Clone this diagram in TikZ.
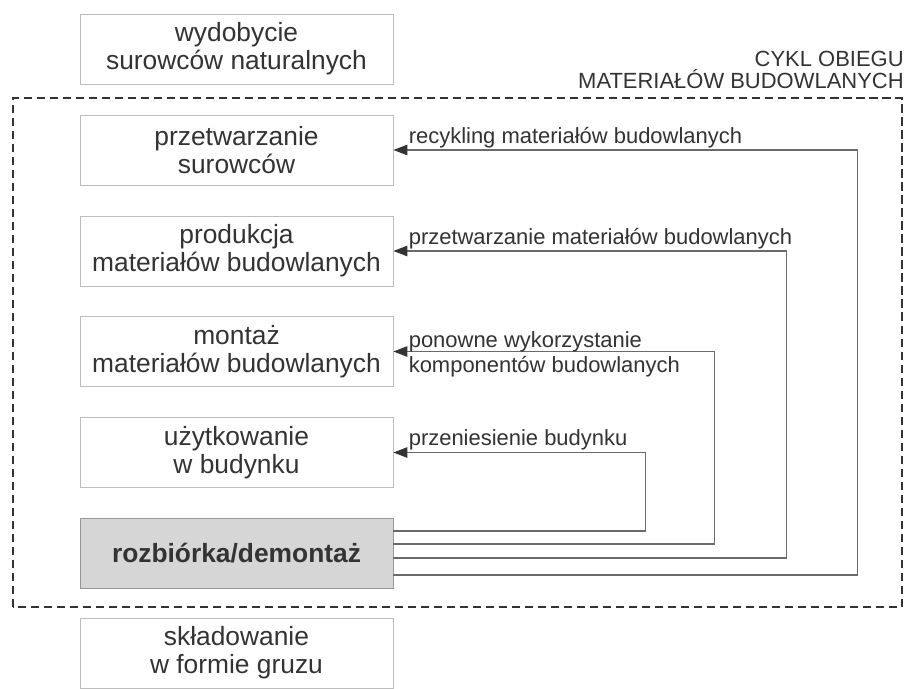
\documentclass[tikz,border=0pt]{standalone}
\usepackage{fontspec}
\setmainfont{Liberation Sans}
\usetikzlibrary{arrows.meta}

\definecolor{tekst}{HTML}{333333}
\definecolor{ramka}{HTML}{BDBDBD}
\definecolor{linia}{HTML}{6A6A6A}
\definecolor{szary}{HTML}{D6D6D6}

\begin{document}
\begin{tikzpicture}[
  etap/.style={rectangle, draw=ramka, line width=0.5pt, fill=white, minimum width=6.26cm, minimum height=1.4cm, inner sep=0pt, align=center, text=tekst, font=\fontsize{15}{16}\selectfont},
  etapszary/.style={etap, fill=szary, draw=ramka!80!black, font=\fontsize{15}{16}\selectfont\bfseries},
  powrot/.style={draw=linia, line width=0.7pt, -{Triangle[length=2.8mm, width=2.1mm, color=tekst]}},
  opis/.style={inner sep=0pt, align=left, text=tekst, font=\fontsize{12.5}{14.2}\selectfont},
  tytul/.style={inner sep=0pt, align=right, text=tekst, font=\fontsize{12.5}{12.6}\selectfont}
]

\draw[draw=none, fill=white] (0, 0) rectangle (18.1, 13.68);

% cykl obiegu
\draw[draw=tekst, line width=1.4pt, dash pattern=on 4.6pt off 2.8pt] (0.26, 1.54) rectangle (18.04, 11.72);
\node[tytul, anchor=south east] (cykl) at (18.08, 11.9) {CYKL OBIEGU\\MATERIAŁÓW BUDOWLANYCH};

\node[etap] (wyd) at (4.73, 12.70) {wydobycie\\surowców naturalnych};
\node[etap] (prz) at (4.73, 10.68) {przetwarzanie\\surowców};
\node[etap] (pro) at (4.73, 8.66) {produkcja\\materiałów budowlanych};
\node[etap] (mon) at (4.73, 6.65) {montaż\\materiałów budowlanych};
\node[etap] (uzy) at (4.73, 4.63) {użytkowanie\\w budynku};
\node[etapszary] (roz) at (4.73, 2.62) {rozbiórka/demontaż};
\node[etap] (skl) at (4.73, 0.62) {składowanie\\w formie gruzu};

\draw[powrot] ([yshift=4.4mm]roz.east) -| ([xshift=5.04cm]uzy.east) -- (uzy.east);
\draw[powrot] ([yshift=1.8mm]roz.east) -| ([xshift=6.42cm]mon.east) -- (mon.east);
\draw[powrot] ([yshift=-1.0mm]roz.east) -| ([xshift=7.86cm]pro.east) -- (pro.east);
\draw[powrot] ([yshift=-4.4mm]roz.east) -| ([xshift=9.28cm]prz.east) -- (prz.east);

\node[opis, anchor=base west] (rec) at ([xshift=3mm, yshift=1.4mm]prz.east) {recykling materiałów budowlanych};
\node[opis, anchor=base west] (prm) at ([xshift=3mm, yshift=1.4mm]pro.east) {przetwarzanie materiałów budowlanych};
\node[opis, anchor=west] (pon) at ([xshift=3mm, yshift=-0.6mm]mon.east) {ponowne wykorzystanie\\komponentów budowlanych};
\node[opis, anchor=base west] (prn) at ([xshift=3mm, yshift=1.4mm]uzy.east) {przeniesienie budynku};

\end{tikzpicture}
\end{document}
